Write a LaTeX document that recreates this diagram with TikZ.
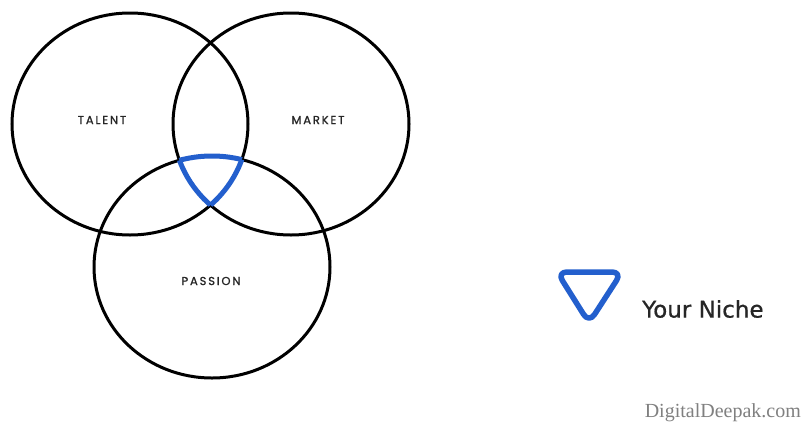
\documentclass[tikz,border=0pt]{standalone}
\usepackage{fontspec}
\newfontfamily\labelfont[LetterSpace=16,FakeBold=1.2]{Poppins}
\newfontfamily\nichefont[FakeBold=0.6]{DejaVu Sans}
\newfontfamily\wmfont{Liberation Serif}
\definecolor{nicheblue}{RGB}{35,95,205}
\begin{document}
\begin{tikzpicture}[x=1pt,y=-1pt,
  venn/.style={draw=black, line width=3pt},
  niche/.style={draw=nicheblue, line width=5pt},
  lbl/.style={font=\labelfont\fontsize{11.5}{12}\selectfont, text=black!85, inner sep=0pt}]
\useasboundingbox[fill=white] (0,0) rectangle (802,423);
% circles
\draw[venn] (130,124) ellipse [x radius=118pt, y radius=111pt];
\draw[venn] (291,124) ellipse [x radius=118pt, y radius=111pt];
\draw[venn] (212,267) ellipse [x radius=118pt, y radius=111pt];
% niche region
\begin{scope}
  \clip (130,124) ellipse [x radius=118pt, y radius=111pt];
  \clip (291,124) ellipse [x radius=118pt, y radius=111pt];
  \draw[niche] (212,267) ellipse [x radius=118pt, y radius=111pt];
\end{scope}
\begin{scope}
  \clip (130,124) ellipse [x radius=118pt, y radius=111pt];
  \clip (212,267) ellipse [x radius=118pt, y radius=111pt];
  \draw[niche] (291,124) ellipse [x radius=118pt, y radius=111pt];
\end{scope}
\begin{scope}
  \clip (291,124) ellipse [x radius=118pt, y radius=111pt];
  \clip (212,267) ellipse [x radius=118pt, y radius=111pt];
  \draw[niche] (130,124) ellipse [x radius=118pt, y radius=111pt];
\end{scope}
% labels
\node[lbl] (tl) at (102,120) {TALENT};
\node[lbl] (mk) at (318,120) {MARKET};
\node[lbl] (ps) at (211,281) {PASSION};
% legend
\draw[niche, line width=5.5pt, rounded corners=10pt, line join=round] (557,272) -- (622,272) -- (589,323) -- cycle;
\node[font=\nichefont\fontsize{23}{24}\selectfont, text=black!85, anchor=west, inner sep=0pt] (yn) at (642,309) {Your Niche};
\node[font=\wmfont\fontsize{20}{21}\selectfont, text=black!50, anchor=east, inner sep=0pt] (wm) at (801,413) {DigitalDeepak.com};
\end{tikzpicture}
\end{document}
